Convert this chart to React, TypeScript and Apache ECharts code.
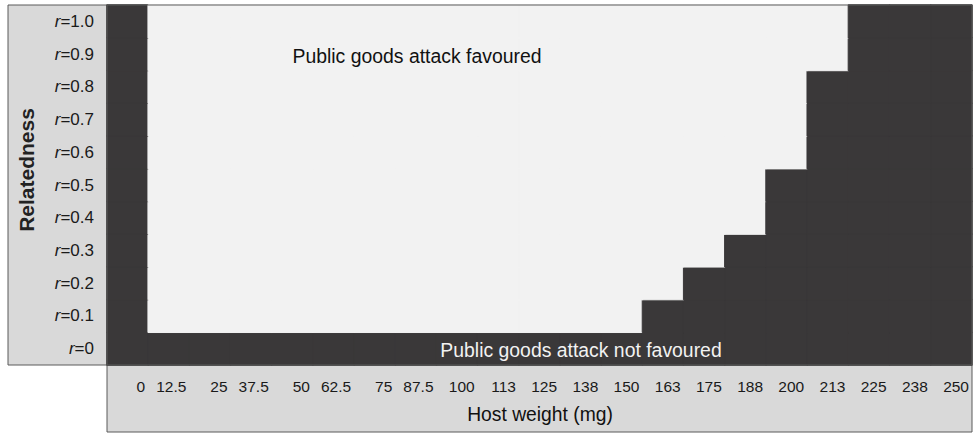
import React, { useEffect, useRef } from "react";
import * as echarts from "echarts";

const weights = ["0", "12.5", "25", "37.5", "50", "62.5", "75", "87.5", "100", "113", "125", "138", "150", "163", "175", "188", "200", "213", "225", "238", "250"];
const relatedness = ["0", "0.1", "0.2", "0.3", "0.4", "0.5", "0.6", "0.7", "0.8", "0.9", "1.0"];

// 1 = public goods attack favoured, 0 = not favoured (rows: r=0 .. r=1.0)
const row_r00 = [0, 0, 0, 0, 0, 0, 0, 0, 0, 0, 0, 0, 0, 0, 0, 0, 0, 0, 0, 0, 0];
const row_r01 = [0, 1, 1, 1, 1, 1, 1, 1, 1, 1, 1, 1, 1, 0, 0, 0, 0, 0, 0, 0, 0];
const row_r02 = [0, 1, 1, 1, 1, 1, 1, 1, 1, 1, 1, 1, 1, 1, 0, 0, 0, 0, 0, 0, 0];
const row_r03 = [0, 1, 1, 1, 1, 1, 1, 1, 1, 1, 1, 1, 1, 1, 1, 0, 0, 0, 0, 0, 0];
const row_r04 = [0, 1, 1, 1, 1, 1, 1, 1, 1, 1, 1, 1, 1, 1, 1, 1, 0, 0, 0, 0, 0];
const row_r05 = [0, 1, 1, 1, 1, 1, 1, 1, 1, 1, 1, 1, 1, 1, 1, 1, 0, 0, 0, 0, 0];
const row_r06 = [0, 1, 1, 1, 1, 1, 1, 1, 1, 1, 1, 1, 1, 1, 1, 1, 1, 0, 0, 0, 0];
const row_r07 = [0, 1, 1, 1, 1, 1, 1, 1, 1, 1, 1, 1, 1, 1, 1, 1, 1, 0, 0, 0, 0];
const row_r08 = [0, 1, 1, 1, 1, 1, 1, 1, 1, 1, 1, 1, 1, 1, 1, 1, 1, 0, 0, 0, 0];
const row_r09 = [0, 1, 1, 1, 1, 1, 1, 1, 1, 1, 1, 1, 1, 1, 1, 1, 1, 1, 0, 0, 0];
const row_r10 = [0, 1, 1, 1, 1, 1, 1, 1, 1, 1, 1, 1, 1, 1, 1, 1, 1, 1, 0, 0, 0];
const favouredRows = [row_r00, row_r01, row_r02, row_r03, row_r04, row_r05, row_r06, row_r07, row_r08, row_r09, row_r10];

const DARK = "#3a3839";
const LIGHT = "#f2f2f2";
const BOX = "#d9d9d9";
const EDGE = "#5a5a5a";
const SANS = "'Liberation Sans', Arial, sans-serif";

export default function App() {
  const ref = useRef<HTMLDivElement>(null);
  useEffect(() => {
    if (!ref.current) return;
    const chart = echarts.init(ref.current, undefined, { renderer: "svg" });
    const data: any[] = [];
    favouredRows.forEach((row, yi) => {
      row.forEach((v, xi) => {
        const c = v === 1 ? LIGHT : DARK;
        data.push({ value: [xi, yi, v], itemStyle: { borderColor: c, borderWidth: 1 } });
      });
    });
    const GL = 107, GT = 5, GW = 865, GH = 360;
    chart.setOption({
      animation: false,
      backgroundColor: "#ffffff",
      grid: { left: GL, top: GT, width: GW, height: GH, show: true, borderColor: EDGE, borderWidth: 1, backgroundColor: "transparent", z: 5 },
      visualMap: {
        type: "piecewise",
        show: false,
        dimension: 2,
        pieces: [
          { value: 0, color: DARK },
          { value: 1, color: LIGHT },
        ],
      },
      xAxis: [
        {
          type: "category",
          data: weights,
          boundaryGap: true,
          axisLine: { show: false },
          axisTick: { show: false },
          axisLabel: { show: false },
          splitLine: { show: false },
        },
        {
          type: "category",
          data: ["", ...weights],
          boundaryGap: false,
          position: "bottom",
          axisLine: { show: false },
          axisTick: { show: false },
          splitLine: { show: false },
          axisLabel: {
            interval: 0,
            align: "right",
            padding: [0, 3, 0, 0],
            margin: 13,
            fontFamily: SANS,
            fontSize: 15.5,
            color: "#1a1a1a",
          },
        },
      ],
      yAxis: {
        type: "category",
        data: relatedness,
        boundaryGap: true,
        axisLine: { show: false },
        axisTick: { show: false },
        splitLine: { show: false },
        axisLabel: {
          margin: 13,
          align: "right",
          fontFamily: SANS,
          fontSize: 17,
          color: "#1a1a1a",
          formatter: (v: string) => `{i|r}=${v}`,
          rich: { i: { fontStyle: "italic", fontFamily: SANS, fontSize: 17, color: "#1a1a1a" } },
        },
      },
      series: [
        {
          type: "heatmap",
          xAxisIndex: 0,
          yAxisIndex: 0,
          data,
          emphasis: { disabled: true },
          z: 2,
        },
      ],
      graphic: [
        { type: "rect", z: -10, shape: { x: 8, y: GT, width: GL - 8, height: GH }, style: { fill: BOX, stroke: EDGE, lineWidth: 1 } },
        { type: "rect", z: -10, shape: { x: GL, y: GT + GH, width: GW, height: 67 }, style: { fill: BOX, stroke: EDGE, lineWidth: 1 } },
        {
          type: "text", z: 100, x: 26, y: 170, rotation: Math.PI / 2,
          style: { text: "Relatedness", fontFamily: SANS, fontSize: 21, fontWeight: "bold", fill: "#222", align: "center", verticalAlign: "middle" },
        },
        {
          type: "text", z: 100, x: 540, y: 414,
          style: { text: "Host weight (mg)", fontFamily: SANS, fontSize: 19.3, fill: "#111", align: "center", verticalAlign: "middle" },
        },
        {
          type: "text", z: 100, x: 417, y: 56,
          style: { text: "Public goods attack favoured", fontFamily: SANS, fontSize: 19.4, fill: "#111", align: "center", verticalAlign: "middle" },
        },
        {
          type: "text", z: 100, x: 581, y: 350,
          style: { text: "Public goods attack not favoured", fontFamily: SANS, fontSize: 19.4, fill: "#f2f2f2", align: "center", verticalAlign: "middle" },
        },
      ],
    });
    return () => chart.dispose();
  }, []);
  return <div ref={ref} style={{ position: "absolute", left: 0, top: 0, width: 975, height: 436 }} />;
}
